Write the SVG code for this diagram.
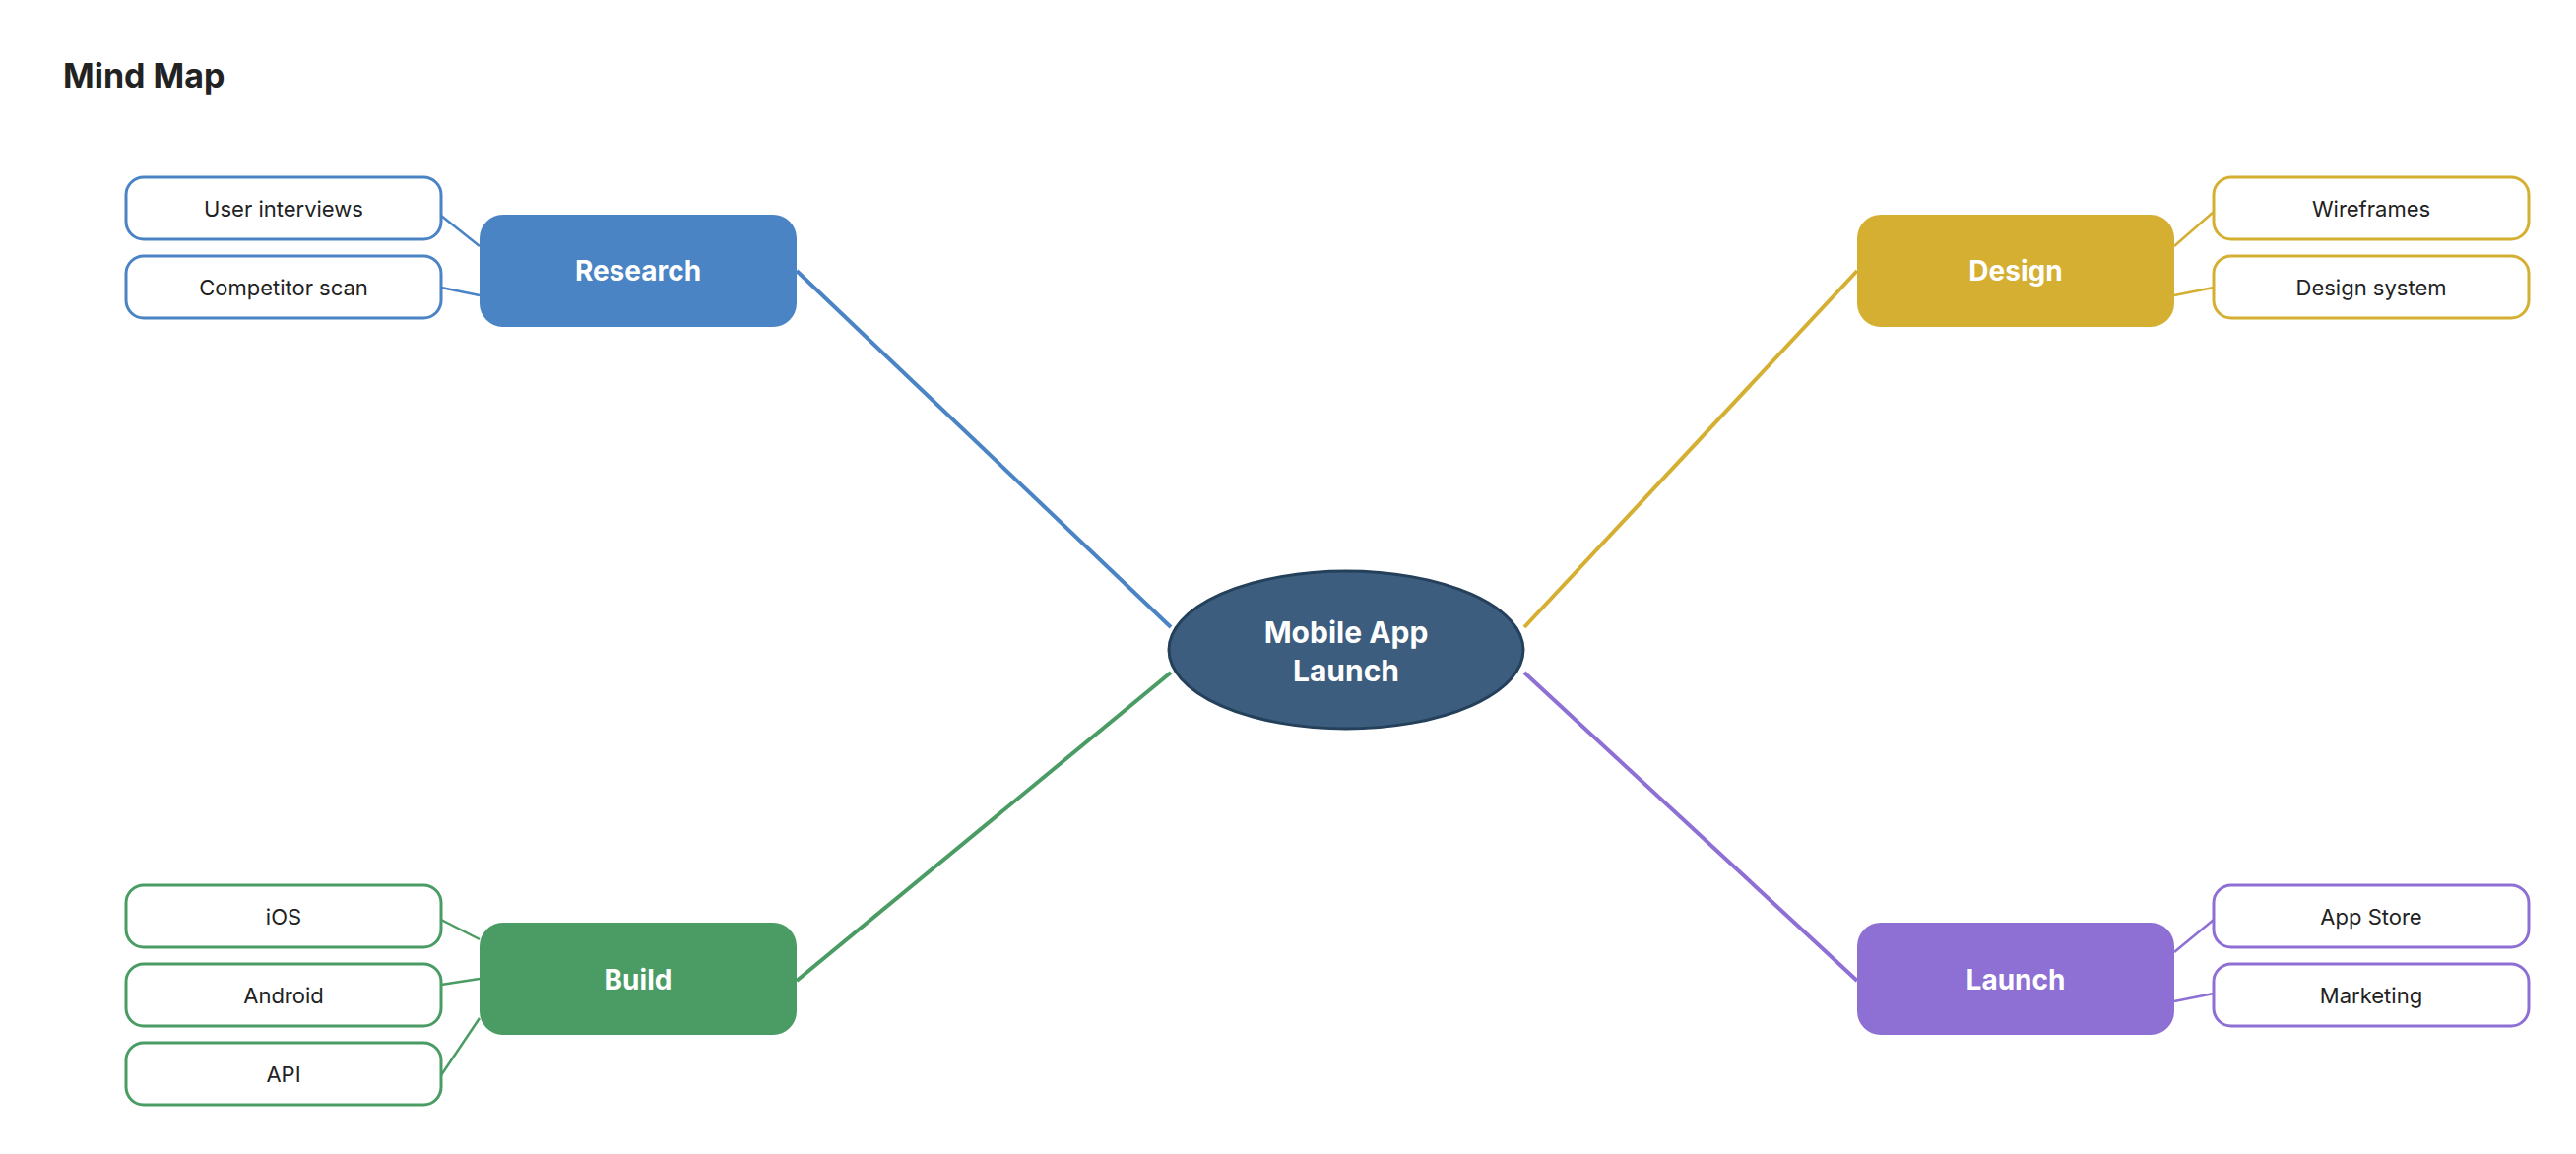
<svg xmlns="http://www.w3.org/2000/svg" width="2616" height="1172" viewBox="0 0 2616 1172">
<style>
text{font-family:Inter,"Liberation Sans",sans-serif;text-anchor:middle;dominant-baseline:central}
.leaf{fill:#fff;stroke-width:3}
.leaf+text{font-size:22px;fill:#222}
.br text{font-size:28px;font-weight:700;fill:#fff}
.main{stroke-width:4;fill:none}
.sub{stroke-width:2.5;fill:none}
</style>
<rect width="2616" height="1172" fill="#fff"/>
<text x="64" y="76" style="text-anchor:start;font-size:34px;font-weight:700;fill:#222">Mind Map</text>
<g id="connectors">
<line class="main" x1="809" y1="275" x2="1189" y2="637" stroke="#4a84c4"/>
<line class="main" x1="1886" y1="275" x2="1548" y2="637" stroke="#d4af32"/>
<line class="main" x1="809" y1="996" x2="1189" y2="683" stroke="#4a9c64"/>
<line class="main" x1="1886" y1="996" x2="1548" y2="683" stroke="#8e6fd4"/>
<line class="sub" x1="448" y1="219" x2="487" y2="250" stroke="#4a84c4"/>
<line class="sub" x1="448" y1="292" x2="487" y2="300" stroke="#4a84c4"/>
<line class="sub" x1="448" y1="934" x2="487" y2="954" stroke="#4a9c64"/>
<line class="sub" x1="448" y1="1000" x2="487" y2="994" stroke="#4a9c64"/>
<line class="sub" x1="448" y1="1092" x2="487" y2="1034" stroke="#4a9c64"/>
<line class="sub" x1="2248" y1="215" x2="2208" y2="250" stroke="#d4af32"/>
<line class="sub" x1="2248" y1="292" x2="2208" y2="300" stroke="#d4af32"/>
<line class="sub" x1="2248" y1="934" x2="2208" y2="967" stroke="#8e6fd4"/>
<line class="sub" x1="2248" y1="1009" x2="2208" y2="1017" stroke="#8e6fd4"/>
</g>
<g id="center"><ellipse cx="1367" cy="660" rx="180" ry="80" fill="#3c5d7e" stroke="#24405a" stroke-width="3"/>
<text x="1367" y="642" style="font-size:30px;font-weight:700;fill:#fff">Mobile App</text>
<text x="1367" y="681" style="font-size:30px;font-weight:700;fill:#fff">Launch</text></g>
<g id="research" class="br"><rect x="487" y="218" width="322" height="114" rx="24" fill="#4a84c4"/><text x="648" y="275">Research</text></g>
<g id="design" class="br"><rect x="1886" y="218" width="322" height="114" rx="24" fill="#d4af32"/><text x="2047" y="275">Design</text></g>
<g id="build" class="br"><rect x="487" y="937" width="322" height="114" rx="24" fill="#4a9c64"/><text x="648" y="995">Build</text></g>
<g id="launch" class="br"><rect x="1886" y="937" width="322" height="114" rx="24" fill="#8e6fd4"/><text x="2047" y="995">Launch</text></g>
<g id="user-interviews"><rect class="leaf" x="128" y="180" width="320" height="63" rx="18" stroke="#4a84c4"/><text x="288" y="212">User interviews</text></g>
<g id="competitor-scan"><rect class="leaf" x="128" y="260" width="320" height="63" rx="18" stroke="#4a84c4"/><text x="288" y="292">Competitor scan</text></g>
<g id="wireframes"><rect class="leaf" x="2248" y="180" width="320" height="63" rx="18" stroke="#d4af32"/><text x="2408" y="212">Wireframes</text></g>
<g id="design-system"><rect class="leaf" x="2248" y="260" width="320" height="63" rx="18" stroke="#d4af32"/><text x="2408" y="292">Design system</text></g>
<g id="ios"><rect class="leaf" x="128" y="899" width="320" height="63" rx="18" stroke="#4a9c64"/><text x="288" y="931">iOS</text></g>
<g id="android"><rect class="leaf" x="128" y="979" width="320" height="63" rx="18" stroke="#4a9c64"/><text x="288" y="1011">Android</text></g>
<g id="api"><rect class="leaf" x="128" y="1059" width="320" height="63" rx="18" stroke="#4a9c64"/><text x="288" y="1091">API</text></g>
<g id="app-store"><rect class="leaf" x="2248" y="899" width="320" height="63" rx="18" stroke="#8e6fd4"/><text x="2408" y="931">App Store</text></g>
<g id="marketing"><rect class="leaf" x="2248" y="979" width="320" height="63" rx="18" stroke="#8e6fd4"/><text x="2408" y="1011">Marketing</text></g>
</svg>
